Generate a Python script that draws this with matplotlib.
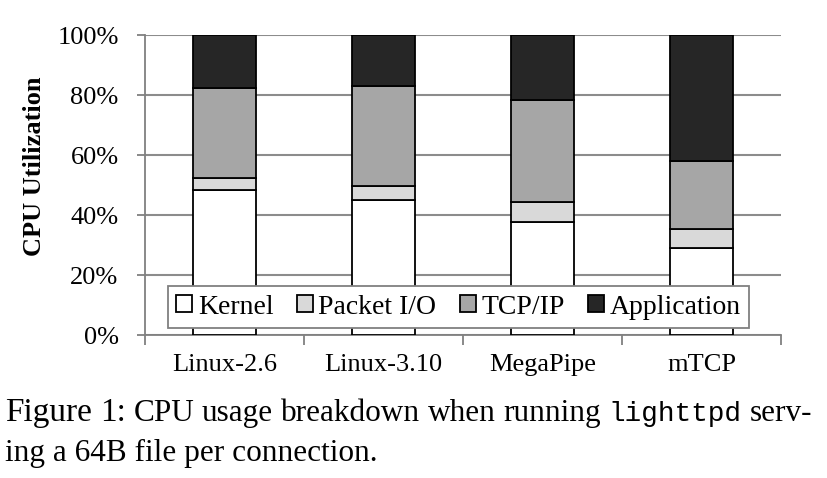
import numpy as np
import matplotlib
matplotlib.use("Agg")
import matplotlib.pyplot as plt
from matplotlib.ticker import FixedLocator, PercentFormatter

plt.rcParams['font.family'] = ['Liberation Serif', 'DejaVu Serif']

# values (percent of CPU time)
systems = ['Linux-2.6', 'Linux-3.10', 'MegaPipe', 'mTCP']
kernel = [48.4, 45.1, 37.6, 28.9]
packet_io = [4.0, 4.7, 6.6, 6.5]
tcp_ip = [29.8, 33.3, 34.0, 22.6]
application = [17.8, 16.9, 21.8, 42.0]

series = [('Kernel', kernel, '#ffffff'),
          ('Packet I/O', packet_io, '#d9d9d9'),
          ('TCP/IP', tcp_ip, '#a6a6a6'),
          ('Application', application, '#262626')]

fig = plt.figure(figsize=(8.28, 4.78), dpi=100)
ax = fig.add_axes([145/828, 1 - 335/478, 636/828, 300/478])

x = np.arange(len(systems))
bottom = np.zeros(len(systems))
for name, vals, col in series:
    ax.bar(x, vals, 0.4, bottom=bottom, color=col, edgecolor='black',
           linewidth=1.3, label=name, zorder=3)
    bottom += np.array(vals)

ax.set_xlim(-0.5, len(systems) - 0.5)
ax.set_ylim(0, 100)
ax.yaxis.set_major_locator(FixedLocator([0, 20, 40, 60, 80, 100]))
ax.yaxis.set_major_formatter(PercentFormatter(decimals=0))
ax.set_xticks(x)
ax.set_xticklabels(systems)
ax.xaxis.set_minor_locator(FixedLocator(np.arange(len(systems) + 1) - 0.5))
ax.tick_params(axis='x', which='major', length=0, pad=14, labelsize=19)
ax.tick_params(axis='x', which='minor', length=7, width=1.3, color='#808080')
ax.tick_params(axis='y', length=6, width=1.3, color='#808080', pad=13, labelsize=19)

ax.grid(axis='y', color='#8c8c8c', linewidth=1.5, zorder=0)
for s in ['top', 'right']:
    ax.spines[s].set_visible(False)
for s in ['left', 'bottom']:
    ax.spines[s].set_color('#808080')
    ax.spines[s].set_linewidth(1.3)

leg = ax.legend(loc='lower left', bbox_to_anchor=(23/636, 7/300, 581/636, 0.13),
                mode='expand', ncol=4, fontsize=20, handlelength=0.57,
                handleheight=0.57, handletextpad=0.2, borderpad=0.3,
                borderaxespad=0, fancybox=False, framealpha=1,
                edgecolor='#808080')
leg.get_frame().set_linewidth(1.3)
leg.set_zorder(5)

fig.text(35/828, 1 - 166/478, 'CPU Utilization', rotation=90, ha='center',
         va='center', fontsize=19, fontweight='bold')

# caption: first line justified between x=5 and x=812 like the paper
serif, mono = 'Liberation Serif', 'Liberation Mono'
line1 = [('Figure', serif, 24), ('1:', serif, 24), ('CPU', serif, 22.5),
         ('usage', serif, 22.5), ('breakdown', serif, 22.5), ('when', serif, 22.5),
         ('running', serif, 22.5), ('lighttpd', mono, 20), ('serv-', serif, 22.5)]
fig.canvas.draw()
r = fig.canvas.get_renderer()
W = fig.bbox.width
texts = [fig.text(0, 1 - 421/478, w, family=f, fontsize=s, va='baseline')
         for w, f, s in line1]
widths = [t.get_window_extent(renderer=r).width for t in texts]
gap = (812 - 5 - sum(widths)) / (len(texts) - 1)
cx = 5
for t, w in zip(texts, widths):
    t.set_x(cx / W)
    cx += w + gap
fig.text(5/828, 1 - 461/478, 'ing a 64B file per connection.', fontsize=22.5,
         va='baseline')

fig.savefig('out.png', dpi=100)
